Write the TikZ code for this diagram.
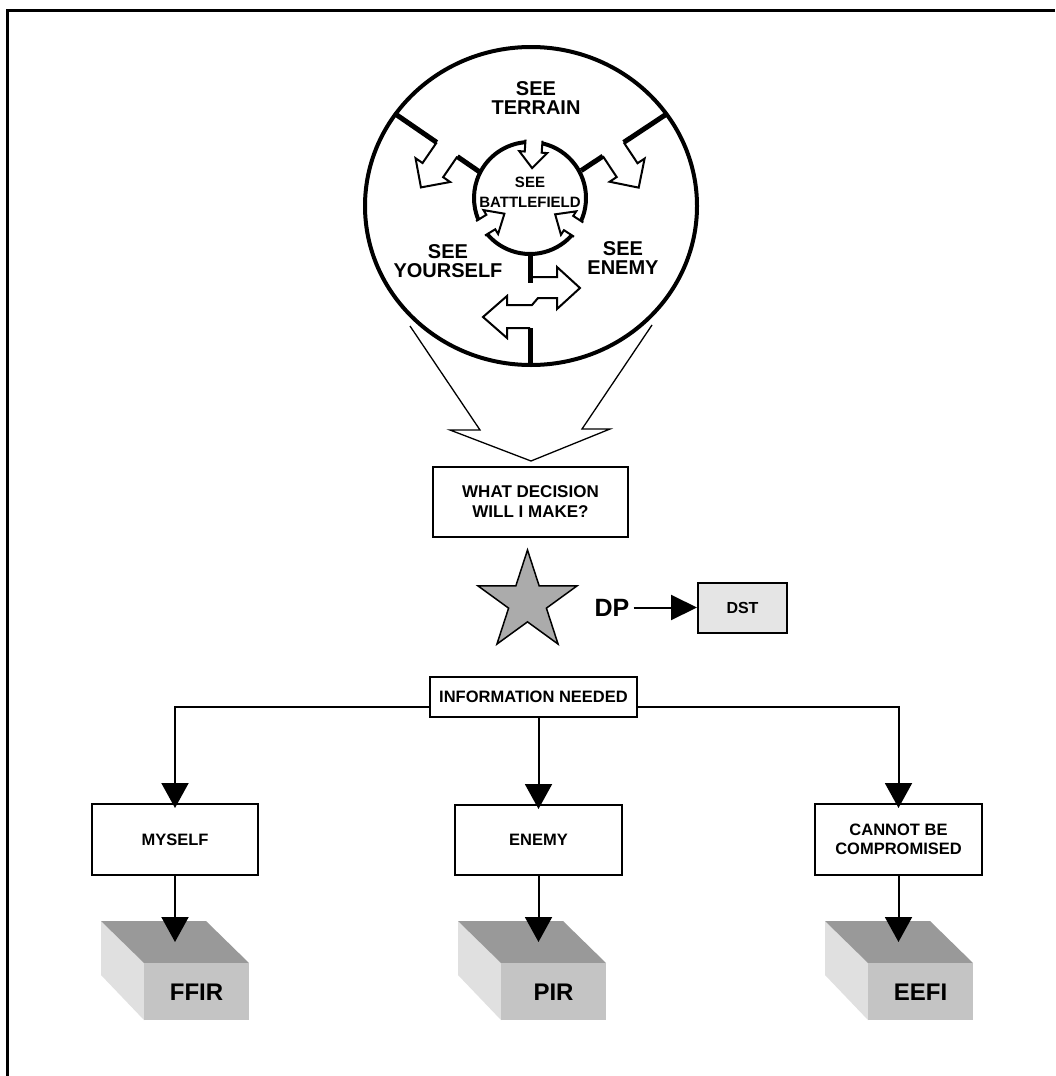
\documentclass[tikz,border=0pt]{standalone}
\usepackage{fontspec}
\setmainfont{Liberation Sans}
\usetikzlibrary{arrows.meta,shapes.geometric}
\definecolor{starfill}{gray}{0.67}
\definecolor{dstfill}{gray}{0.9}
\definecolor{topface}{gray}{0.6}
\definecolor{frontface}{gray}{0.77}
\definecolor{sideface}{gray}{0.88}
\begin{document}
\begin{tikzpicture}[x=1pt,y=-1pt,
  flowbox/.style={draw, line width=2pt, fill=white, inner sep=0pt, align=center, font=\bfseries\fontsize{16.5}{19.5}\selectfont},
  lbl/.style={inner sep=0pt, align=center, font=\bfseries\fontsize{20}{19.5}\selectfont},
  conn/.style={line width=2pt, -{Triangle[length=25pt,width=27pt]}},
  wall/.style={line width=5pt},
  outl/.style={line width=2pt, line join=miter},
  blocklbl/.style={inner sep=0pt, font=\bfseries\fontsize{24}{28}\selectfont},
]
\useasboundingbox (0,0) rectangle (1055,1076);
\fill[white] (0,0) rectangle (1055,1076);
% page border (top and left only)
\draw[line width=3pt] (1055,10.8) -- (7.3,10.8) -- (7.3,1076);

% funnel arrow
\draw[line width=1.3pt, line join=miter] (410,326) -- (480,430) -- (450,430) -- (531,461) -- (610,429) -- (582,429) -- (652,325);

% outer circle
\draw[line width=4pt] (531,206) ellipse [x radius=166pt, y radius=159pt];

% inner circle arcs
\begin{scope}[shift={(530,198)}]
  \draw[line width=4pt] (95:56pt) arc[start angle=95,end angle=203,radius=56pt];
  \draw[line width=4pt] (220:56pt) arc[start angle=220,end angle=318,radius=56pt];
  \draw[line width=4pt] (336:56pt) arc[start angle=336,end angle=437,radius=56pt];
\end{scope}
\foreach \t in {86,211.5,327}{
  \begin{scope}[shift={(530,198)}, rotate=\t]
    \draw[outl] (58pt,8.5pt) -- (46pt,8.5pt) -- (46pt,14pt) -- (30pt,0pt) -- (46pt,-14pt) -- (46pt,-8.5pt) -- (58pt,-8.5pt);
  \end{scope}
}

% upper-left divider with arrow
\begin{scope}[shift={(447,149.5)}, rotate=235.5]
  \draw[wall] (0pt,-64pt) -- (0pt,-12.5pt);
  \draw[wall] (0pt,12.5pt) -- (0pt,41pt);
  \draw[outl] (0pt,-12.5pt) -- (25pt,-12.5pt) -- (25pt,-21pt) -- (46pt,0pt) -- (25pt,21pt) -- (25pt,12.5pt) -- (0pt,12.5pt);
\end{scope}
% upper-right divider with arrow
\begin{scope}[shift={(613.3,149.3)}, rotate=303.5]
  \draw[wall] (0pt,64pt) -- (0pt,12.5pt);
  \draw[wall] (0pt,-12.5pt) -- (0pt,-38.5pt);
  \draw[outl] (0pt,-12.5pt) -- (25pt,-12.5pt) -- (25pt,-21pt) -- (46pt,0pt) -- (25pt,21pt) -- (25pt,12.5pt) -- (0pt,12.5pt);
\end{scope}
% bottom divider with double arrow
\draw[outl] (533,277) -- (557,277) -- (557,267) -- (580,288) -- (557,309) -- (557,298) -- (538,298) -- (532,305) -- (507,305) -- (507,296) -- (483,317) -- (507,338) -- (507,328) -- (530,328);
\draw[wall] (530,252) -- (530,283);
\draw[wall] (530,328) -- (530,366);

% circle labels
\node[lbl] (terrain) at (536,98) {SEE\\TERRAIN};
\node[lbl] (yourself) at (448,261) {SEE\\YOURSELF};
\node[lbl] (enemylbl) at (623,258) {SEE\\ENEMY};
\node[inner sep=0pt, align=center, font=\bfseries\fontsize{15}{20}\selectfont] (battle) at (530,192.5) {SEE\\BATTLEFIELD};

% blocks
\foreach \x in {101,458,825}{
  \fill[sideface] (\x,921) -- (\x+43,963) -- (\x+43,1020) -- (\x,975) -- cycle;
  \fill[topface] (\x,921) -- (\x+105,921) -- (\x+148,963) -- (\x+43,963) -- cycle;
  \fill[frontface] (\x+43,963) rectangle (\x+148,1020);
}
\node[blocklbl] (ffir) at (196.5,992) {FFIR};
\node[blocklbl] (pir) at (553.5,992) {PIR};
\node[blocklbl] (eefi) at (920.5,992) {EEFI};

% flow boxes
\node[flowbox, minimum width=195pt, minimum height=70pt, font=\bfseries\fontsize{17}{20}\selectfont] (decide) at (530.5,502) {WHAT DECISION\\WILL I MAKE?};
\node[star, star points=5, star point ratio=2.618, minimum size=104pt, inner sep=0pt, draw, line width=1.5pt, fill=starfill] (dpstar) at (527.5,602) {};
\node[inner sep=0pt, font=\bfseries\fontsize{25}{30}\selectfont] (dp) at (612,607.5) {DP};
\node[flowbox, fill=dstfill, minimum width=89pt, minimum height=50pt, font=\bfseries\fontsize{16}{18}\selectfont] (dst) at (742.5,607.5) {DST};
\draw[line width=2pt, shorten <=4pt, -{Triangle[length=26pt,width=25pt]}] (dp) -- (dst);

\node[flowbox, minimum width=207pt, minimum height=40pt] (info) at (533.5,697) {INFORMATION NEEDED};
\node[flowbox, minimum width=166pt, minimum height=71pt] (myself) at (175,839.5) {MYSELF};
\node[flowbox, minimum width=167pt, minimum height=70pt] (enemy) at (538.5,840) {ENEMY};
\node[flowbox, minimum width=167pt, minimum height=71pt] (cannot) at (898.5,839.5) {CANNOT BE\\COMPROMISED};

\draw[conn, shorten >=-5pt] ([yshift=-10pt]info.west) -| (myself.north);
\draw[conn, shorten >=-5pt] ([yshift=-10pt]info.east) -| (cannot.north);
\draw[conn, shorten >=-5pt] (info.south -| enemy.north) -- (enemy.north);

\coordinate (ffirtop) at (175,942);
\coordinate (pirtop) at (538.5,942);
\coordinate (eefitop) at (898.5,942);
\draw[conn] (myself.south) -- (ffirtop);
\draw[conn] (enemy.south) -- (pirtop);
\draw[conn] (cannot.south) -- (eefitop);
\end{tikzpicture}
\end{document}
